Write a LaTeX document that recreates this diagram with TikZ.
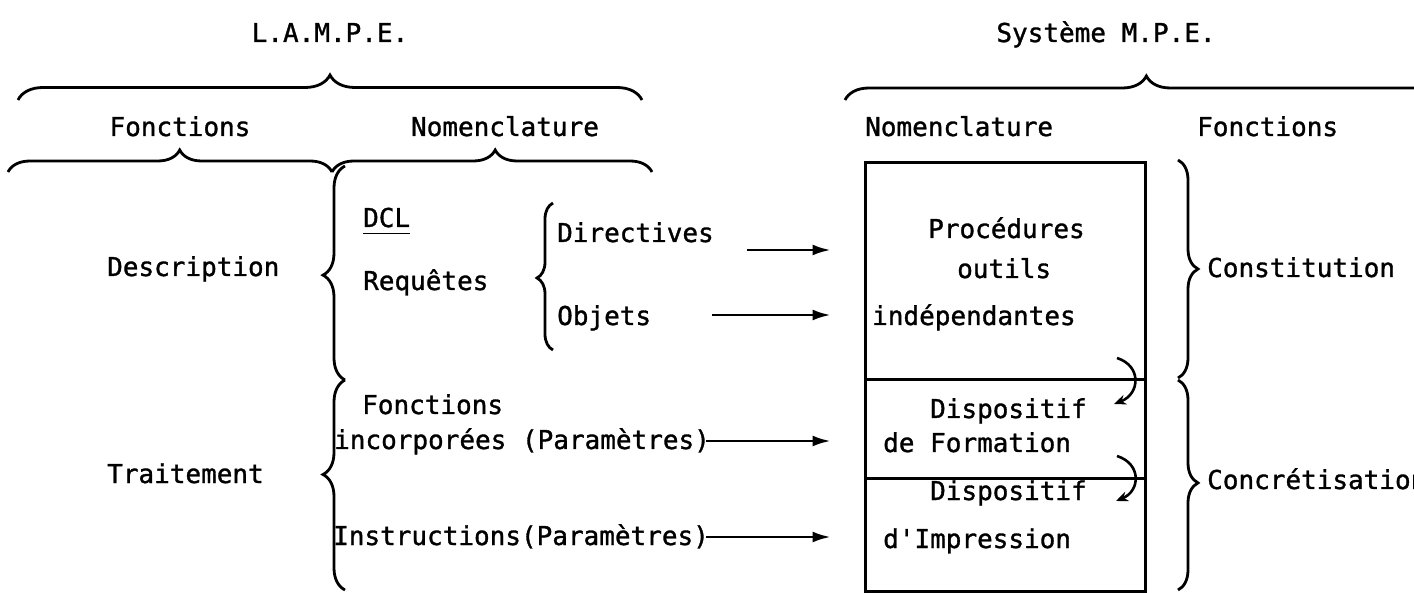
\documentclass[tikz,border=0pt]{standalone}
\usepackage{fontspec}
\setmonofont{DejaVu Sans Mono}[FakeBold=1.2]
\usetikzlibrary{decorations.pathreplacing,arrows.meta}

\begin{document}
\begin{tikzpicture}[x=1pt,y=-1pt,
    txt/.style={font=\ttfamily\fontsize{26}{30}\selectfont, inner sep=0pt, anchor=base west},
    brc/.style 2 args={decorate, decoration={brace, amplitude=#1, aspect=#2}, line width=2.8pt},
    arr/.style={-{Latex[length=18pt,width=11pt]}, line width=2.6pt},
    carr/.style={-{Stealth[length=12pt,width=10pt]}, line width=2.6pt},
    part/.style={draw, line width=3pt, minimum width=280pt, inner sep=0pt}]
    \clip (0,0) rectangle (1414,593);

    % titles and headers
    \node[txt, anchor=base] (lampe) at (330,42) {L.A.M.P.E.};
    \node[txt, anchor=base] (mpe) at (1106,42) {Système M.P.E.};
    \node[txt, anchor=base] (lfonc) at (180,136) {Fonctions};
    \node[txt, anchor=base] (lnom) at (505,136) {Nomenclature};
    \node[txt] (rnom) at (865,136) {Nomenclature};
    \node[txt] (rfonc) at (1197,136) {Fonctions};

    \draw[brc={25pt}{0.5}] (18,100) -- (642,100);
    \draw[brc={22pt}{0.53}] (8,172) -- (332,172);
    \draw[brc={22pt}{0.51}] (332,172) -- (652,172);
    \draw[brc={24pt}{0.49}] (845,100) -- (1460,100);

    % L.A.M.P.E. side
    \node[txt] (descr) at (107,276) {Description};
    \node[txt] (trait) at (107,483) {Traitement};
    \draw[brc={22pt}{0.49}] (345,380) -- (345,166);
    \draw[brc={22pt}{0.55}] (345,590) -- (345,380);

    \node[txt] (dcl) at (363,227) {DCL};
    \draw[line width=1.8pt] ([yshift=-6pt]dcl.south west) -- ([yshift=-6pt]dcl.south east);
    \node[txt] (req) at (363,290) {Requêtes};
    \draw[brc={16pt}{0.49}] (553,350) -- (553,203);
    \node[txt] (dir) at (557,242) {Directives};
    \node[txt] (obj) at (557,325) {Objets};
    \node[txt] (fonc) at (362,414) {Fonctions};
    \node[txt] (incorp) at (334,449) {incorporées (Paramètres)};
    \node[txt] (instr) at (333,545) {Instructions(Paramètres)};

    % M.P.E. box
    \node[part, minimum height=217pt] (proc) at (1005,271.5) {};
    \node[part, minimum height=98pt] (form) at (1005,429) {};
    \node[part, minimum height=113pt] (impr) at (1005,534.5) {};
    \node[txt] (p1) at (928,238) {Procédures};
    \node[txt] (p2) at (957,278) {outils};
    \node[txt] (p3) at (872,325) {indépendantes};
    \node[txt] (f1) at (930,418) {Dispositif};
    \node[txt] (f2) at (883,452) {de Formation};
    \node[txt] (i1) at (930,500) {Dispositif};
    \node[txt] (i2) at (883,548) {d'Impression};

    \coordinate (a1) at (747,250);
    \coordinate (a2) at (712,315);
    \coordinate (a3) at (706,441);
    \coordinate (a4) at (706,537);
    \foreach \a in {a1,a2,a3,a4}
        \draw[arr, shorten >=33pt] (\a) -- (\a -| proc.west);

    \coordinate (c1s) at (1117,358);
    \coordinate (c1e) at (1114,404);
    \coordinate (c2s) at (1117,456);
    \coordinate (c2e) at (1116,501);
    \draw[carr] (c1s) .. controls (1142,366) and (1140,394) .. (c1e);
    \draw[carr] (c2s) .. controls (1142,464) and (1140,491) .. (c2e);

    % functions on the right
    \draw[brc={20pt}{0.5}] (1178,160) -- (1178,378);
    \draw[brc={20pt}{0.49}] (1178,380) -- (1178,590);
    \node[txt] (constit) at (1207,277) {Constitution};
    \node[txt] (concr) at (1207,489) {Concrétisation};
\end{tikzpicture}
\end{document}
